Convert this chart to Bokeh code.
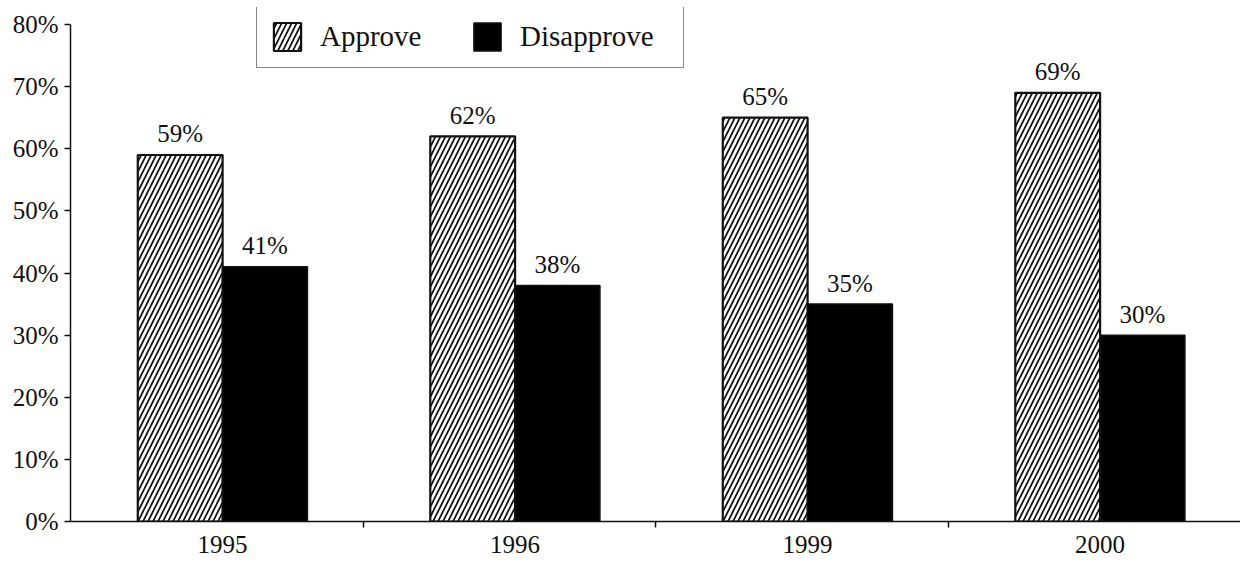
import numpy as np
from bokeh.plotting import figure
from bokeh.models import (ColumnDataSource, Range1d, FixedTicker, Legend, LegendItem)
from bokeh.core.properties import value
from bokeh.embed import file_html
from bokeh.resources import INLINE

# ---- data ----
years = ["1995", "1996", "1999", "2000"]
approve = [59, 62, 65, 69]
disapprove = [41, 38, 35, 30]
y_ticks = [0, 10, 20, 30, 40, 50, 60, 70, 80]
y_tick_labels = ["0%", "10%", "20%", "30%", "40%", "50%", "60%", "70%", "80%"]

FONT = "Liberation Serif"
INK = "#111111"

idx = np.arange(len(years))
centers = idx + 0.52
bar_w = 0.29

src_a = ColumnDataSource(dict(x=centers - bar_w / 2, top=approve,
                              label=[f"{v}%" for v in approve]))
src_d = ColumnDataSource(dict(x=centers + bar_w / 2, top=disapprove,
                              label=[f"{v}%" for v in disapprove]))

p = figure(width=1240, height=559, output_backend="svg", toolbar_location=None,
           x_range=Range1d(0, len(years)), y_range=Range1d(0, 82.74),
           min_border_left=70, min_border_right=0, min_border_top=7,
           min_border_bottom=38)
p.outline_line_color = None
p.grid.visible = False
p.background_fill_color = "white"
p.border_fill_color = "white"

ra = p.vbar(x="x", top="top", width=bar_w, bottom=0, source=src_a,
            fill_color="white", line_color=INK, line_width=2.2,
            hatch_pattern="/", hatch_color=INK, hatch_scale=10, hatch_weight=1.7)
rd = p.vbar(x="x", top="top", width=bar_w, bottom=0, source=src_d,
            fill_color="black", line_color=INK, line_width=1.5)

for src in (src_a, src_d):
    p.text(x="x", y="top", text="label", source=src,
           text_align="center", text_baseline="alphabetic", y_offset=-21,
           text_font=value(FONT), text_font_size="25px", text_color=INK)

# axes
xa = p.xaxis[0]
xa.ticker = FixedTicker(ticks=[float(c) for c in centers],
                        minor_ticks=[float(i) for i in idx[1:]])
xa.major_label_overrides = {float(c): y for c, y in zip(centers, years)}
xa.major_tick_line_color = None
xa.minor_tick_line_color = INK
xa.minor_tick_line_width = 1.5
xa.minor_tick_out = 6
xa.minor_tick_in = 0
xa.axis_line_color = INK
xa.axis_line_width = 1.5
xa.major_label_standoff = 8
xa.major_label_text_font = FONT
xa.major_label_text_font_size = "25px"
xa.major_label_text_color = INK

ya = p.yaxis[0]
ya.bounds = (0, 80)
ya.ticker = FixedTicker(ticks=y_ticks, minor_ticks=[])
ya.major_label_overrides = dict(zip(y_ticks, y_tick_labels))
ya.major_tick_out = 6
ya.major_tick_in = 0
ya.major_tick_line_color = INK
ya.major_tick_line_width = 1.5
ya.minor_tick_line_color = None
ya.axis_line_color = INK
ya.axis_line_width = 1.5
ya.major_label_standoff = 6
ya.major_label_text_font = FONT
ya.major_label_text_font_size = "25px"
ya.major_label_text_color = INK

legend = Legend(items=[LegendItem(label="Approve", renderers=[ra]),
                       LegendItem(label="Disapprove", renderers=[rd])],
                orientation="horizontal", location=(186, 453),
                padding=13, spacing=0, margin=0,
                glyph_width=34, glyph_height=35, label_standoff=16,
                label_width=150,
                label_text_font=FONT, label_text_font_size="29px",
                label_text_color=INK,
                border_line_color=INK, border_line_width=1.5,
                background_fill_color="white", background_fill_alpha=1.0)
p.add_layout(legend, "center")

open("out.html", "w").write(file_html(p, INLINE))
